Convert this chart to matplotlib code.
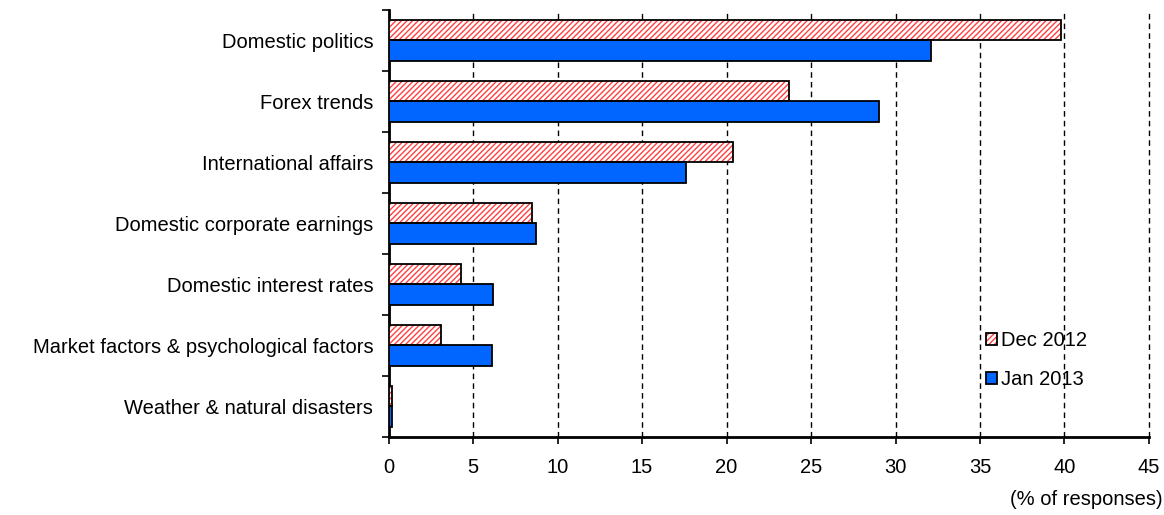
import numpy as np
import matplotlib.pyplot as plt
from matplotlib.patches import Patch

plt.rcParams['font.family'] = ['Liberation Sans', 'DejaVu Sans']
plt.rcParams['hatch.linewidth'] = 1.0

# survey responses, % of respondents
categories = [
    "Domestic politics",
    "Forex trends",
    "International affairs",
    "Domestic corporate earnings",
    "Domestic interest rates",
    "Market factors & psychological factors",
    "Weather & natural disasters",
]
dec_2012 = [39.8, 23.7, 20.4, 8.5, 4.3, 3.1, 0.2]
jan_2013 = [32.1, 29.0, 17.6, 8.7, 6.2, 6.1, 0.2]

blue = '#0066FF'
red = '#FF4040'
fs = 14.5

fig = plt.figure(figsize=(11.64, 5.15), dpi=100)
ax = fig.add_axes([0.3338, 0.1515, 0.6533, 0.8291])

y = np.arange(len(categories))
h = 0.33

# hatched fill first, black outline on top
ax.barh(y - h / 2, dec_2012, height=h, color='white', edgecolor=red,
        hatch='//////', linewidth=0, zorder=3)
ax.barh(y - h / 2, dec_2012, height=h, fill=False, edgecolor='black',
        linewidth=1.3, zorder=4)
ax.barh(y + h / 2, jan_2013, height=h, color=blue, edgecolor='black',
        linewidth=1.3, zorder=3)

ax.set_xlim(0, 45)
ax.set_ylim(len(categories) - 0.5, -0.5)
ax.set_xticks(np.arange(0, 46, 5))
ax.tick_params(axis='x', direction='out', length=5, width=1.2, labelsize=fs, pad=10)

ax.set_yticks(y)
ax.set_yticklabels(categories)
ax.set_yticks(np.arange(-0.5, len(categories)), minor=True)
ax.tick_params(axis='y', which='major', length=0, labelsize=fs, pad=11)
ax.tick_params(axis='y', which='minor', direction='out', length=5, width=1.2)

for s in ['top', 'right']:
    ax.spines[s].set_visible(False)
for s in ['left', 'bottom']:
    ax.spines[s].set_linewidth(2)

ax.xaxis.grid(True, linestyle=(0, (4, 3)), color='black', linewidth=1)
for gl in ax.get_xgridlines():
    gl.set_clip_on(False)
ax.set_axisbelow(True)

fig.text(0.999, 0.012, '(% of responses)', ha='right', va='bottom', fontsize=fs)

handles = [
    (Patch(facecolor='white', edgecolor=red, hatch='//////', linewidth=0),
     Patch(fill=False, edgecolor='black', linewidth=1.3)),
    Patch(facecolor=blue, edgecolor='black', linewidth=1.3),
]
ax.legend(handles, ['Dec 2012', 'Jan 2013'], loc='center left',
          bbox_to_anchor=(0.762, 0.18), frameon=False, fontsize=fs,
          handlelength=0.55, handleheight=0.55, handletextpad=0.2,
          labelspacing=1.0)

fig.savefig('out.png', dpi=100, facecolor='white')
